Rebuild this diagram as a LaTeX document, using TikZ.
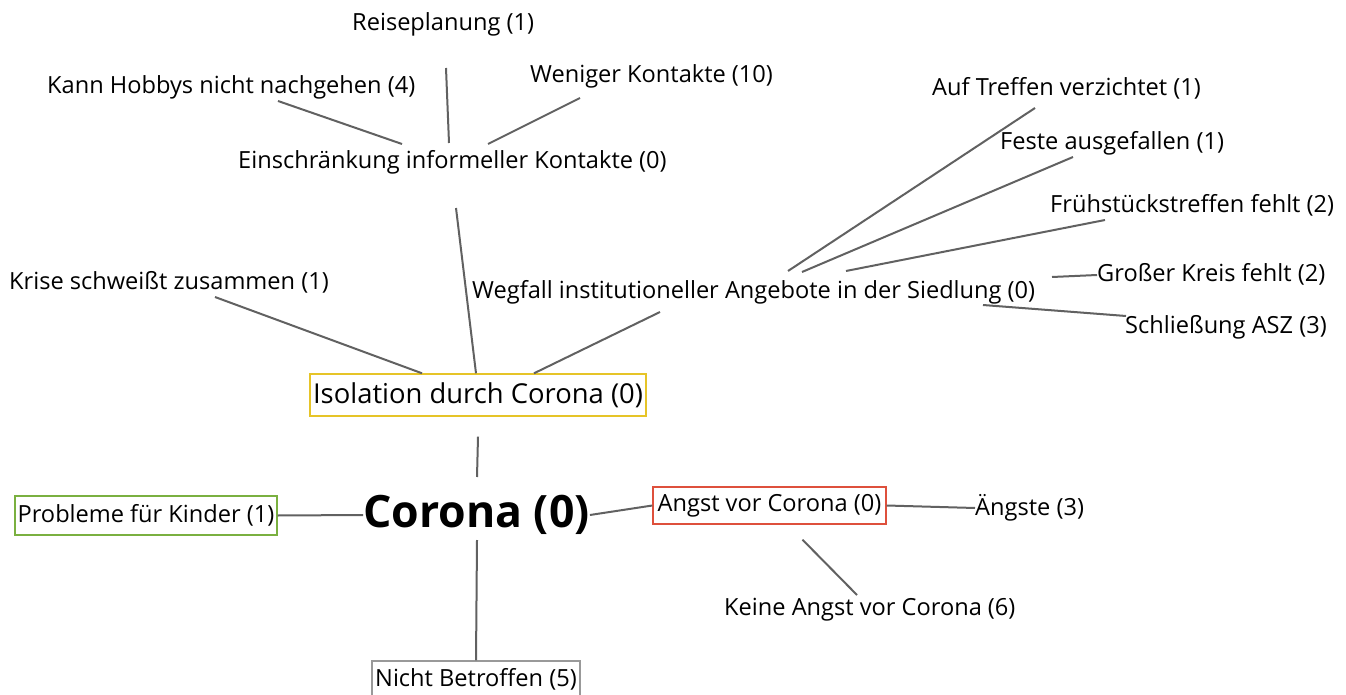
\documentclass[tikz,border=0pt]{standalone}
\usepackage{fontspec}
\setmainfont{Open Sans}
\usetikzlibrary{calc}

\begin{document}
\begin{tikzpicture}[x=1pt,y=-1pt]

    \tikzset{
      txt/.style={inner sep=0pt, anchor=west, font=\fontsize{23.6}{26}\selectfont},
      box/.style={inner sep=0pt, draw, line width=1.4pt, font=\fontsize{23.6}{26}\selectfont},
      link/.style={draw=black!62, line width=2pt},
    }
    \useasboundingbox (0,0) rectangle (1346,695);

    % centre and boxes
    \node[inner sep=0pt, font=\fontsize{44.6}{48}\selectfont\bfseries, anchor=west] (corona) at (363,515) {Corona (0)};
    \node[box, draw={rgb,255:red,230;green,196;blue,40}, minimum width=336, minimum height=42,
          font=\fontsize{27.4}{30}\selectfont] (iso) at (478,395) {Isolation durch Corona (0)};
    \node[box, draw={rgb,255:red,122;green,176;blue,64}, minimum width=262, minimum height=39] (kinder) at (146,515.5) {Probleme für Kinder (1)};
    \node[box, draw={rgb,255:red,222;green,80;blue,60}, minimum width=233, minimum height=37] (angst) at (769.5,505.5) {Angst vor Corona (0)};
    \node[box, draw=black!40, minimum width=208, minimum height=36] (nicht) at (476,679) {Nicht Betroffen (5)};

    % plain labels
    \node[txt] (reise) at (352,24) {Reiseplanung (1)};
    \node[txt] (hobbys) at (47,87) {Kann Hobbys nicht nachgehen (4)};
    \node[txt] (weniger) at (530,76) {Weniger Kontakte (10)};
    \node[txt] (einschr) at (238,162) {Einschränkung informeller Kontakte (0)};
    \node[txt] (krise) at (9,282) {Krise schweißt zusammen (1)};
    \node[txt] (wegfall) at (472,292) {Wegfall institutioneller Angebote in der Siedlung (0)};
    \node[txt] (treffen) at (932,88) {Auf Treffen verzichtet (1)};
    \node[txt] (feste) at (1000,143) {Feste ausgefallen (1)};
    \node[txt] (fruehst) at (1050,205) {Frühstückstreffen fehlt (2)};
    \node[txt] (kreis) at (1097,274) {Großer Kreis fehlt (2)};
    \node[txt] (asz) at (1125,327) {Schließung ASZ (3)};
    \node[txt] (aengste) at (975,508) {Ängste (3)};
    \node[txt] (keine) at (724,610) {Keine Angst vor Corona (6)};

    % connectors
    \draw[link] ($(reise.west)+(94,44)$) -- ($(einschr.west)+(211,-19)$);
    \draw[link] ($(hobbys.west)+(231,14)$) -- ($(einschr.west)+(164,-18)$);
    \draw[link] ($(weniger.west)+(50,22)$) -- ($(einschr.west)+(250,-18)$);
    \draw[link] ($(einschr.west)+(218,46)$) -- ($(iso.north)+(-2,0)$);
    \draw[link] ($(krise.west)+(206,15)$) -- ($(iso.north)+(-56,0)$);
    \draw[link] ($(wegfall.west)+(188,20)$) -- ($(iso.north)+(56,0)$);
    \draw[link] ($(iso.south)+(0,20)$) -- ($(corona.west)+(114,-38)$);
    \draw[link] (corona.west) -- (kinder.east);
    \draw[link] (corona.east) -- (angst.west);
    \draw[link] ($(corona.west)+(114,25)$) -- (nicht.north);
    \draw[link] (angst.east) -- (aengste.west);
    \draw[link] ($(angst.south)+(33,15)$) -- ($(keine.west)+(133,-15)$);
    \draw[link] ($(wegfall.west)+(316,-21)$) -- ($(treffen.west)+(103,20)$);
    \draw[link] ($(wegfall.west)+(330,-20)$) -- ($(feste.west)+(73,14)$);
    \draw[link] ($(wegfall.west)+(374,-21)$) -- ($(fruehst.west)+(55,15)$);
    \draw[link] ($(wegfall.west)+(580,-15)$) -- ($(kreis.west)+(0,1)$);
    \draw[link] ($(wegfall.west)+(511,13)$) -- ($(asz.west)+(1,-11)$);

\end{tikzpicture}
\end{document}
